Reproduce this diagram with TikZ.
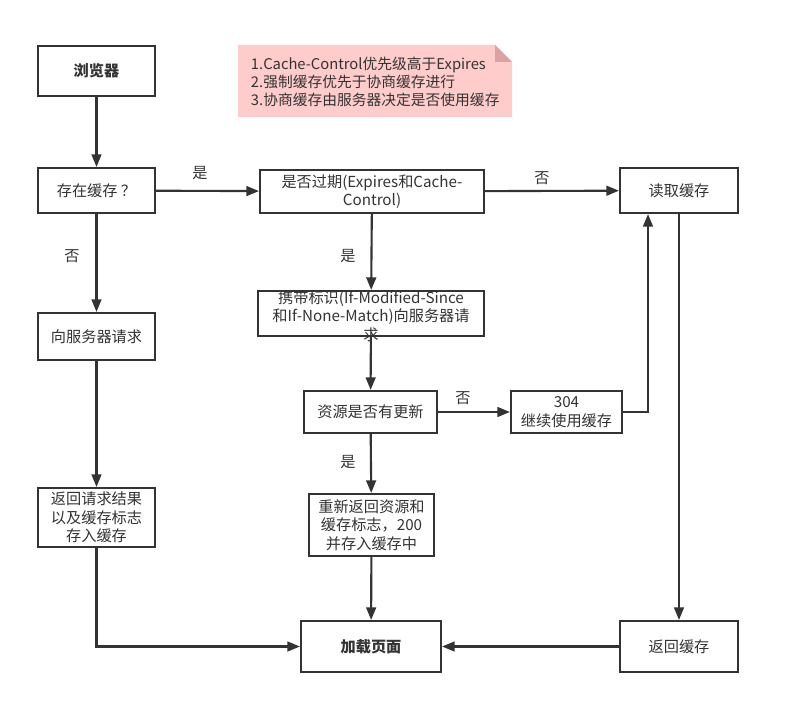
\documentclass[tikz,border=0pt]{standalone}
\usepackage{fontspec}
\setmainfont{Noto Sans CJK SC}
\usetikzlibrary{arrows.meta, calc}
\definecolor{lineGray}{HTML}{333333}
\definecolor{notePink}{HTML}{FFCCCC}
\definecolor{foldPink}{HTML}{D9A3A3}

\begin{document}
\begin{tikzpicture}[
  x=0.025cm, y=-0.025cm,
  fbox/.style={draw=lineGray, fill=white, line width=1.5pt, align=center, inner sep=2pt,
    text=lineGray, font=\fontsize{10.8}{13.3}\selectfont},
  sz/.style 2 args={minimum width=#1*0.025cm, minimum height=#2*0.025cm},
  flow/.style={draw=lineGray, line width=1.5pt, -{Triangle[length=9pt,width=7pt]}},
  tag/.style={text=lineGray, font=\fontsize{10.8}{13.3}\selectfont}
]
  \useasboundingbox (0,0) rectangle (806,707);

  % note
  \fill[notePink] (238,45) -- (495,45) -- (512,62) -- (512,117) -- (238,117) -- cycle;
  \fill[foldPink] (495,45) -- (512,62) -- (495,62) -- cycle;
  \node[tag, align=left, anchor=west, font=\fontsize{10.5}{13}\selectfont] (note) at (246,82) {
    1.Cache-Control优先级高于Expires\\
    2.强制缓存优先于协商缓存进行\\
    3.协商缓存由服务器决定是否使用缓存
  };

  % left column
  \node[fbox, sz={117}{50}, font=\bfseries\fontsize{10.8}{13.3}\selectfont] (browser) at (96.5,71) {浏览器};
  \node[fbox, sz={117}{45}] (exist) at (96.5,190.5) {存在缓存 ？};
  \node[fbox, sz={117}{47}] (request) at (96.5,336.5) {向服务器请求};
  \node[fbox, sz={117}{59}] (result) at (96.5,517.5) {返回请求结果\\以及缓存标志\\存入缓存};

  % middle column
  \node[fbox, sz={224}{43}] (expire) at (372,191.5) {是否过期(Expires和Cache-\\Control)};
  \node[fbox, sz={226}{45}] (carry) at (371,313.5) {};
  \node[tag, align=center] (carrytext) at (371,316) {携带标识(If-Modified-Since\\和If-None-Match)向服务器请\\求};
  \node[fbox, sz={133}{42}] (update) at (370.5,412) {资源是否有更新};
  \node[fbox, sz={111}{42}] (keep304) at (566.5,412) {304\\继续使用缓存};
  \node[fbox, sz={125}{62}] (renew) at (371.5,525) {重新返回资源和\\缓存标志，200\\并存入缓存中};
  \node[fbox, sz={140}{51}, font=\bfseries\fontsize{10.8}{13.3}\selectfont] (load) at (371,646.5) {加载页面};

  % right column
  \node[fbox, sz={118}{45}] (read) at (679,190.5) {读取缓存};
  \node[fbox, sz={118}{51}] (back) at (679,646.5) {返回缓存};

  % connectors
  \draw[flow] (browser) -- (exist);
  \draw[flow] (exist) -- (expire);
  \draw[flow] (expire) -- (read);
  \draw[flow] (exist) -- (request);
  \draw[flow] (request) -- (result);
  \draw[flow] (result.south) |- (load.west);
  \draw[flow] (expire) -- (carry);
  \draw[flow] (carry) -- (update);
  \draw[flow] (update) -- (keep304);
  \coordinate (bend) at (648,412);
  \draw[flow] (keep304.east) -- (bend) -- (bend |- read.south);
  \draw[flow] (update) -- (renew);
  \draw[flow] (renew) -- (load);
  \draw[flow] (read) -- (back);
  \draw[flow] (back) -- (load);

  % labels
  \node[tag] (yes1) at (200,173) {是};
  \node[tag] (no1) at (542,178) {否};
  \node[tag] (no2) at (72,256) {否};
  \node[tag] (yes2) at (348,256) {是};
  \node[tag] (no3) at (463,398) {否};
  \node[tag] (yes3) at (348,462) {是};
\end{tikzpicture}
\end{document}
